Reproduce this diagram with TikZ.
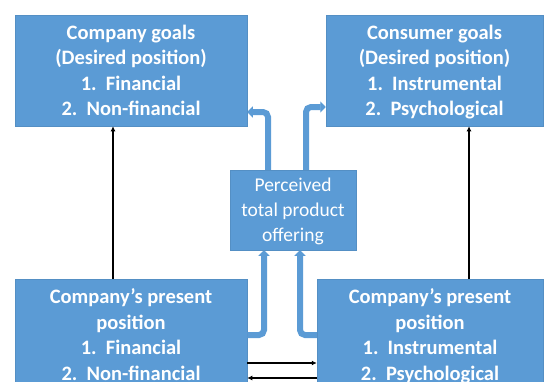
\documentclass[tikz,border=0pt]{standalone}
\usepackage{fontspec}
\setmainfont{Carlito}
\usetikzlibrary{arrows.meta}
\definecolor{boxblue}{HTML}{5B9BD5}
\begin{document}
\begin{tikzpicture}[x=1pt,y=1pt,
  goalbox/.style={fill=boxblue, draw=boxblue!92!black, line width=0.5pt,
    text=white, font=\fontsize{20.5}{25.4}\selectfont\bfseries,
    align=center, inner sep=0pt, text depth=0pt, minimum height=111pt},
  midbox/.style={fill=boxblue, draw=boxblue!92!black, line width=0.5pt,
    text=white, font=\fontsize{19.5}{25}\selectfont,
    align=center, inner sep=0pt, text depth=0pt},
  flow/.style={draw=boxblue, line width=6pt, rounded corners=5pt,
    -{Triangle[width=11pt,length=5.5pt]}},
  link/.style={draw=black, line width=1.4pt,
    -{Latex[width=5pt,length=5pt]}}]
\useasboundingbox (0,0) rectangle (548,381);
\clip (0,0) rectangle (548,381);

% goal boxes
\node[goalbox, minimum width=232pt] (cg) at (131,310.5)
  {Company goals\\(Desired position)\\1.\hspace{0.45em}Financial\\2.\hspace{0.45em}Non-financial};
\node[goalbox, minimum width=217pt] (ug) at (434.5,310.5)
  {Consumer goals\\(Desired position)\\1.\hspace{0.45em}Instrumental\\2.\hspace{0.45em}Psychological};

% present positions
\node[goalbox, minimum width=232pt] (cp) at (131,46.5)
  {Company’s present\\position\\1.\hspace{0.45em}Financial\\2.\hspace{0.45em}Non-financial};
\node[goalbox, minimum width=226pt] (pp) at (430,46.5)
  {Company’s present\\position\\1.\hspace{0.45em}Instrumental\\2.\hspace{0.45em}Psychological};

% offering in the middle
\node[midbox, minimum width=126pt, minimum height=80pt] (po) at (293,171)
  {Perceived\\total product\\offering};

% helper coordinates for the routes
\coordinate (l1) at (268,269);
\coordinate (r1) at (306,274);
\coordinate (b1) at (264,46);
\coordinate (b2) at (300,46);
\coordinate (t1) at (113,0);
\coordinate (t2) at (469,0);
\coordinate (h1) at (0,18);
\coordinate (h2) at (0,3);

% thick flows
\draw[flow] (po.north -| l1) |- (cg.east |- l1);
\draw[flow] (po.north -| r1) |- (ug.west |- r1);
\draw[flow] (cp.east |- b1) -| (po.south -| b1);
\draw[flow] (pp.west |- b2) -| (po.south -| b2);

% thin links
\draw[link] (cp.north -| t1) -- (cg.south -| t1);
\draw[link] (pp.north -| t2) -- (ug.south -| t2);
\draw[link] (cp.east |- h1) -- (pp.west |- h1);
\draw[link] (pp.west |- h2) -- (cp.east |- h2);
\end{tikzpicture}
\end{document}
